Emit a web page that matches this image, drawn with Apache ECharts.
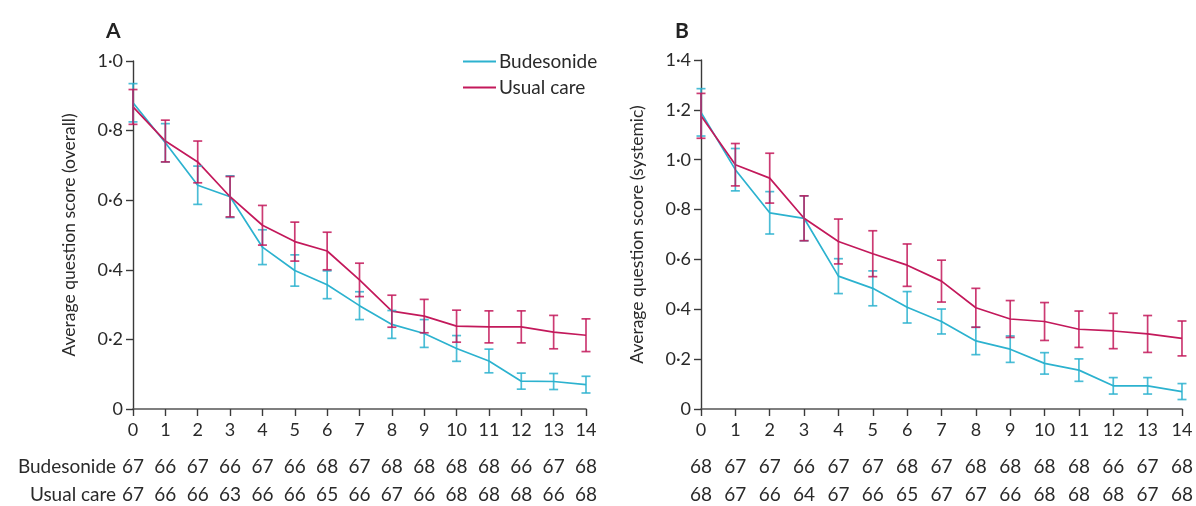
<!DOCTYPE html>
<html>
<head>
<meta charset="utf-8">
<script src="https://cdn.jsdelivr.net/npm/echarts@6/dist/echarts.min.js"></script>
<style>
html,body{margin:0;padding:0;background:#fff;}
#chart{width:1196px;height:506px;}
</style>
</head>
<body>
<div id="chart"></div>
<script>
// ---- data ----
const days = [0,1,2,3,4,5,6,7,8,9,10,11,12,13,14];

// Panel A: overall score
const aBudMean = [0.880,0.765,0.643,0.610,0.465,0.398,0.357,0.297,0.243,0.217,0.174,0.138,0.080,0.079,0.070];
const aBudErr  = [0.055,0.055,0.055,0.060,0.050,0.045,0.040,0.040,0.040,0.040,0.037,0.034,0.023,0.023,0.024];
const aUsualMean = [0.868,0.770,0.710,0.610,0.528,0.481,0.454,0.371,0.281,0.267,0.238,0.236,0.236,0.221,0.212];
const aUsualErr  = [0.050,0.060,0.060,0.058,0.057,0.056,0.054,0.048,0.046,0.048,0.046,0.046,0.046,0.048,0.047];

// Panel B: systemic score
const bBudMean = [1.190,0.960,0.787,0.765,0.533,0.484,0.408,0.351,0.273,0.240,0.183,0.156,0.093,0.093,0.070];
const bBudErr  = [0.095,0.085,0.085,0.090,0.070,0.070,0.063,0.050,0.055,0.053,0.043,0.045,0.033,0.033,0.032];
const bUsualMean = [1.176,0.980,0.926,0.765,0.672,0.623,0.577,0.513,0.406,0.361,0.351,0.320,0.313,0.301,0.283];
const bUsualErr  = [0.090,0.085,0.100,0.090,0.090,0.092,0.085,0.084,0.078,0.074,0.076,0.073,0.071,0.074,0.070];

// numbers at risk
const aBudN   = [67,66,67,66,67,66,68,67,68,68,68,68,66,67,68];
const aUsualN = [67,66,66,63,66,66,65,66,67,66,68,68,68,66,68];
const bBudN   = [68,67,67,66,67,67,68,67,68,68,68,68,66,67,68];
const bUsualN = [68,67,66,64,67,66,65,67,67,66,68,68,68,67,68];

const yTicksA = {min:0, max:1.0, interval:0.2};
const yTicksB = {min:0, max:1.4, interval:0.2};

// ---- styling ----
const FONT = 'Lato';
const CYAN = '#2cb2cf';
const RED = '#c3195b';
const TXT = '#2a2a2a';
const AX = '#3a3a3a';

function fmtY(v){ return v === 0 ? '0' : v.toFixed(1).replace('.', '\u00B7'); }

function mainX(gi){
  return {type:'value', gridIndex:gi, min:0, max:14, interval:1,
    axisLine:{show:true, onZero:false, lineStyle:{color:'#555', width:1.6}},
    axisTick:{show:true, length:7, lineStyle:{color:AX, width:1.4}},
    axisLabel:{fontFamily:FONT, fontSize:18, color:TXT, margin:12},
    splitLine:{show:false}};
}
function countX(gi, arr, offset, name){
  return {type:'value', gridIndex:gi, min:0, max:14, interval:1, position:'bottom', offset:offset,
    name:name || '', nameLocation:'start', nameGap:14,
    nameTextStyle:{fontFamily:FONT, fontSize:19, color:TXT, align:'right', verticalAlign:'middle'},
    axisLine:{show:false, onZero:false}, axisTick:{show:false}, splitLine:{show:false},
    axisLabel:{fontFamily:FONT, fontSize:19, color:TXT, margin:0, verticalAlign:'middle',
      formatter:function(v){ return String(arr[Math.round(v)]); }}};
}
function yAx(gi, t, name){
  return {type:'value', gridIndex:gi, min:t.min, max:t.max, interval:t.interval,
    name:name, nameLocation:'middle', nameGap:55,
    nameTextStyle:{fontFamily:FONT, fontSize:17.5, color:TXT},
    axisLine:{show:true, onZero:false, lineStyle:{color:AX, width:1.4}},
    axisTick:{show:true, length:7, lineStyle:{color:AX, width:1.4}},
    axisLabel:{fontFamily:FONT, fontSize:18, color:TXT, margin:10, formatter:fmtY},
    splitLine:{show:false}};
}
function lineSeries(name, xi, yi, mean, color){
  return {type:'line', name:name, xAxisIndex:xi, yAxisIndex:yi,
    data: days.map((d,i)=>[d, mean[i]]), showSymbol:false, symbol:'none',
    lineStyle:{color:color, width:1.7}, itemStyle:{color:color}, z:3, silent:true};
}
function errSeries(name, xi, yi, mean, err, color){
  return {type:'custom', name:name, xAxisIndex:xi, yAxisIndex:yi, z:4, silent:true,
    data: days.map((d,i)=>[d, mean[i]-err[i], mean[i]+err[i]]),
    encode:{x:0, y:[1,2]},
    renderItem:function(params, api){
      const x = api.value(0);
      const p1 = api.coord([x, api.value(1)]);
      const p2 = api.coord([x, api.value(2)]);
      const w = 4.5;
      const st = {stroke:color, lineWidth:1.7, opacity:0.85};
      return {type:'group', children:[
        {type:'line', shape:{x1:p1[0], y1:p1[1], x2:p2[0], y2:p2[1]}, style:st},
        {type:'line', shape:{x1:p1[0]-w, y1:p1[1], x2:p1[0]+w, y2:p1[1]}, style:st},
        {type:'line', shape:{x1:p2[0]-w, y1:p2[1], x2:p2[0]+w, y2:p2[1]}, style:st}
      ]};
    }};
}

const chart = echarts.init(document.getElementById('chart'), null, {renderer:'canvas'});
chart.setOption({
  animation:false,
  backgroundColor:'#fff',
  textStyle:{fontFamily:FONT},
  title:[
    {text:'A', left:101, top:16, textStyle:{fontFamily:FONT, fontSize:21, fontWeight:'bold', color:'#222'}},
    {text:'B', left:670, top:16, textStyle:{fontFamily:FONT, fontSize:21, fontWeight:'bold', color:'#222'}}
  ],
  legend:{data:['Budesonide','Usual care'], orient:'vertical', left:458, top:47,
    icon:'rect', itemWidth:33, itemHeight:2, itemGap:7,
    textStyle:{fontFamily:FONT, fontSize:19, color:TXT, padding:[0,0,0,-2]}},
  grid:[
    {left:133, top:61, width:453, height:348},
    {left:701, top:60, width:483, height:349}
  ],
  xAxis:[
    mainX(0), countX(0, aBudN, 58, 'Budesonide'), countX(0, aUsualN, 86, 'Usual care'),
    mainX(1), countX(1, bBudN, 58), countX(1, bUsualN, 86)
  ],
  yAxis:[
    yAx(0, yTicksA, 'Average question score (overall)'),
    yAx(1, yTicksB, 'Average question score (systemic)')
  ],
  series:[
    lineSeries('Budesonide', 0, 0, aBudMean, CYAN),
    errSeries('Budesonide CI A', 0, 0, aBudMean, aBudErr, CYAN),
    lineSeries('Usual care', 0, 0, aUsualMean, RED),
    errSeries('Usual care CI A', 0, 0, aUsualMean, aUsualErr, RED),
    lineSeries('Budesonide', 3, 1, bBudMean, CYAN),
    errSeries('Budesonide CI B', 3, 1, bBudMean, bBudErr, CYAN),
    lineSeries('Usual care', 3, 1, bUsualMean, RED),
    errSeries('Usual care CI B', 3, 1, bUsualMean, bUsualErr, RED)
  ]
});
</script>
</body>
</html>
